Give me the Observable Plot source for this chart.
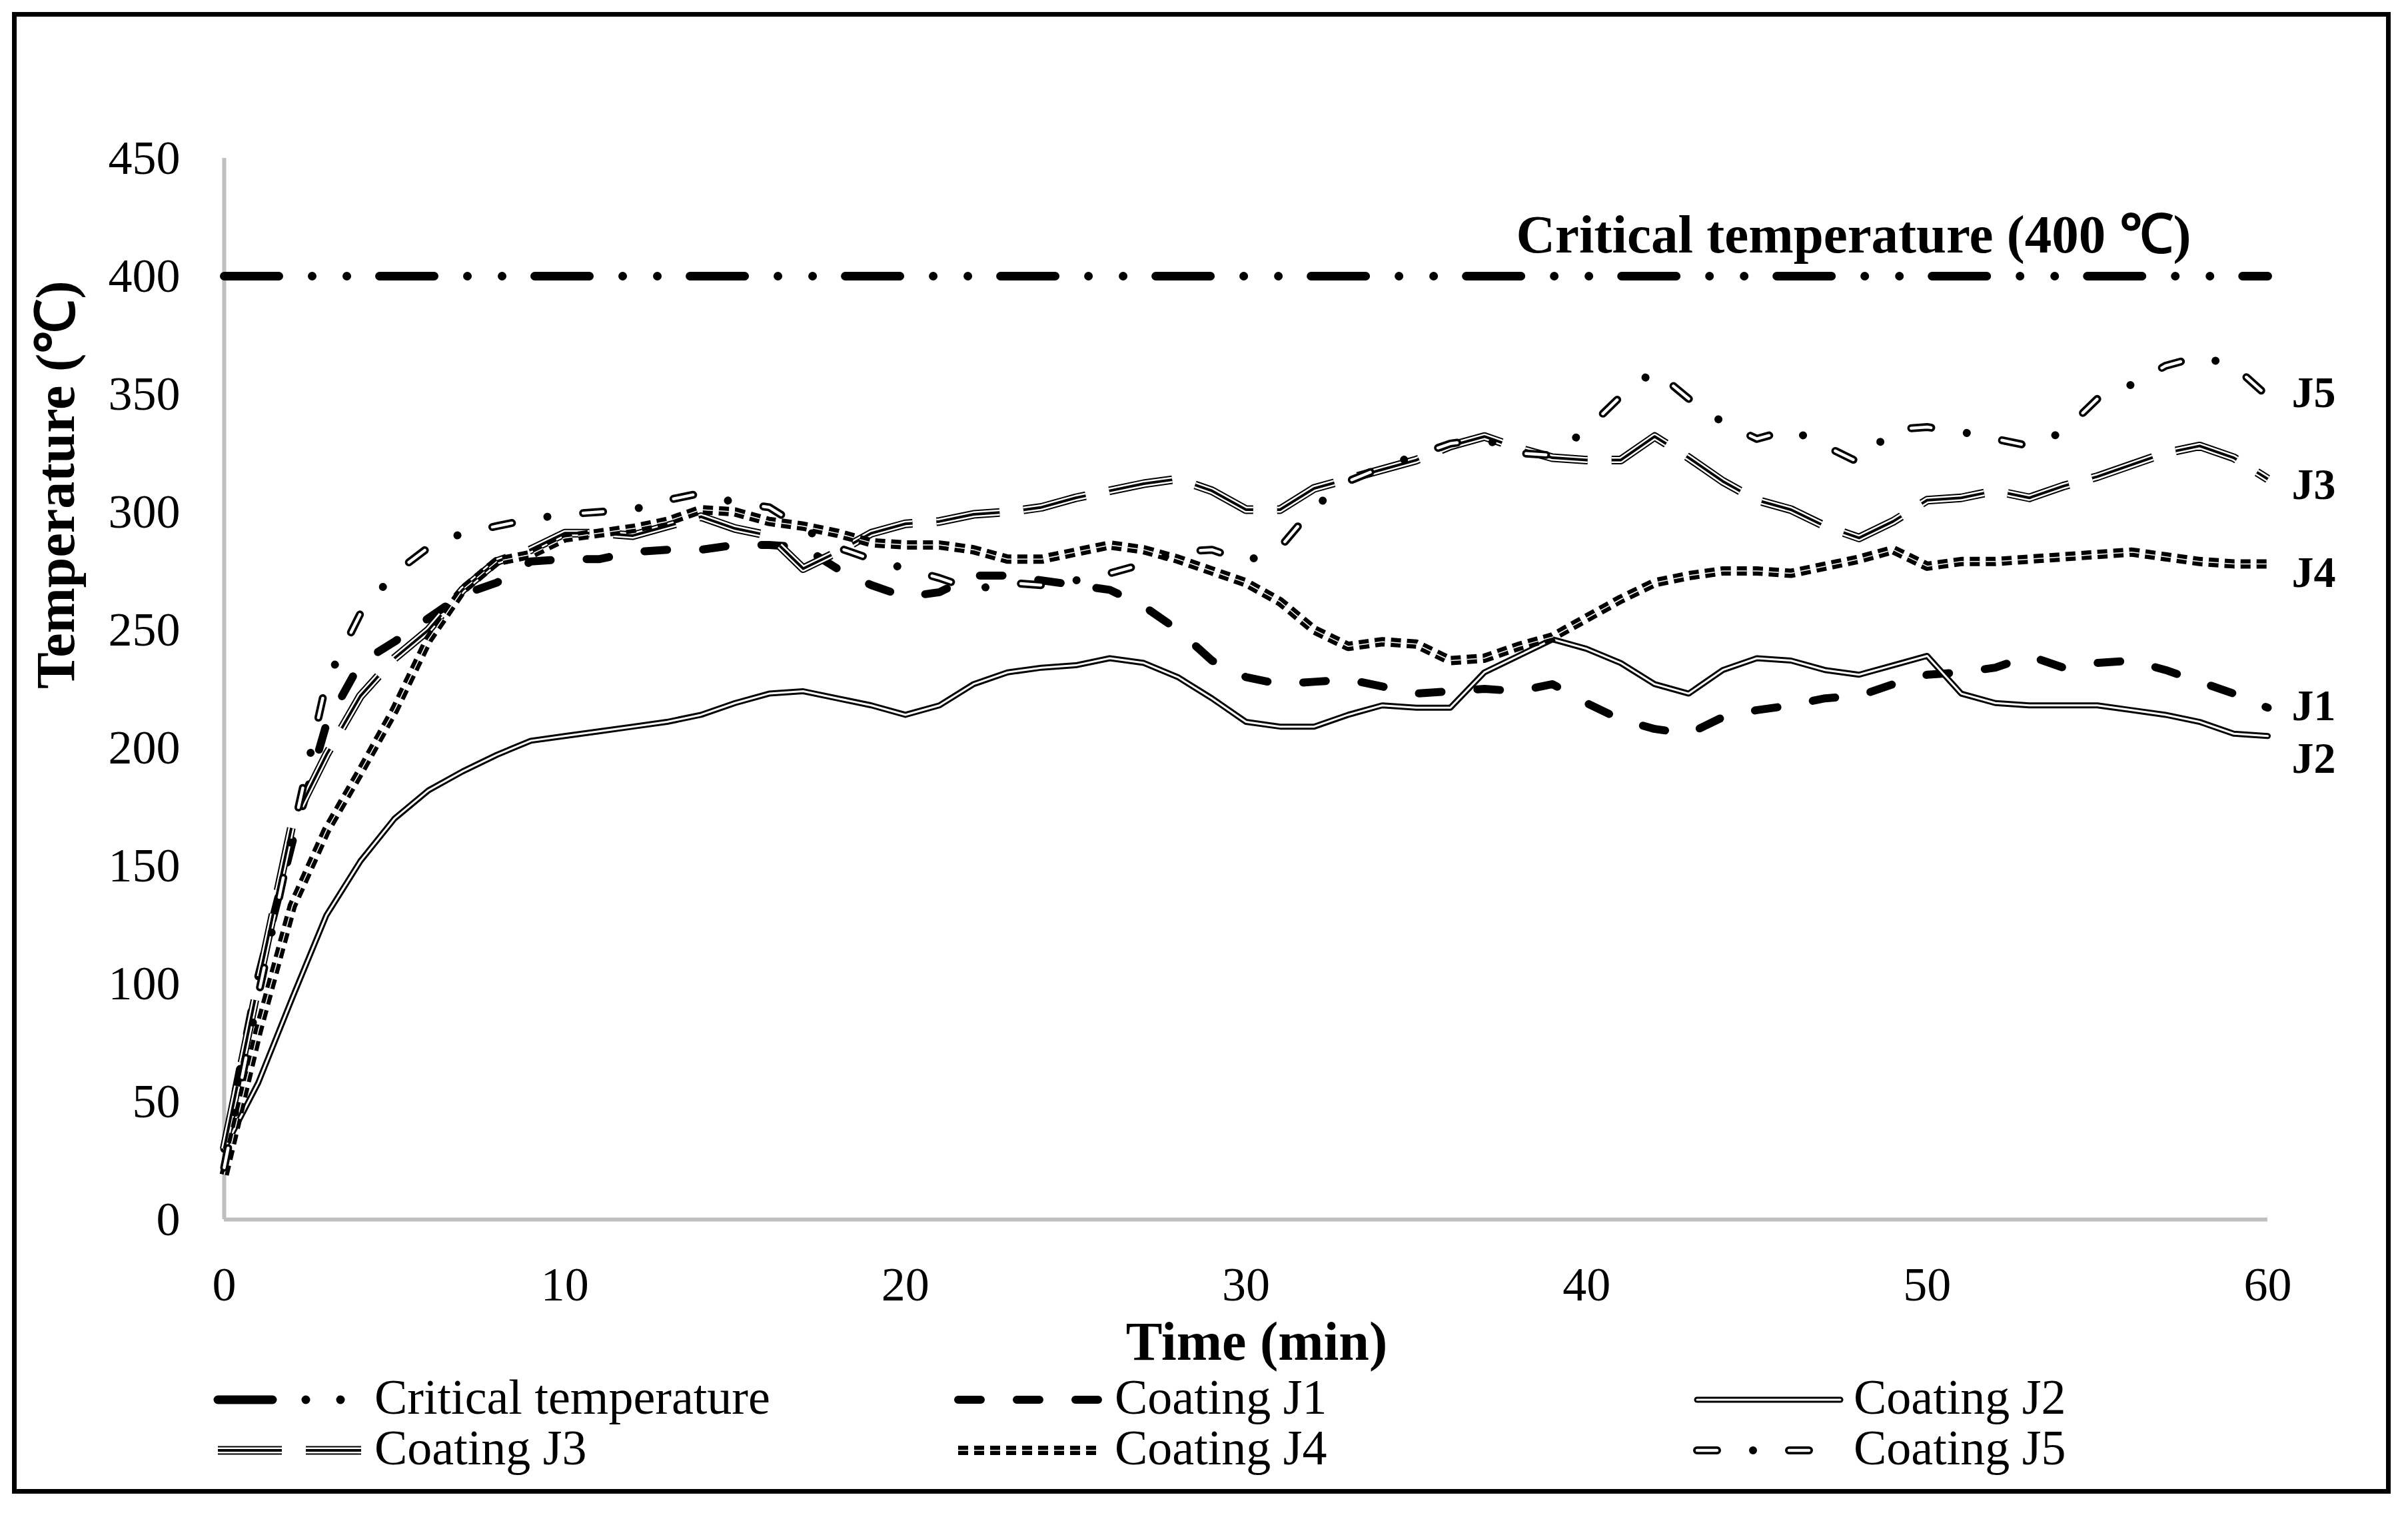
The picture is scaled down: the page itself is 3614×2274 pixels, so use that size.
<!DOCTYPE html>
<html>
<head>
<meta charset="utf-8">
<script src="https://cdn.jsdelivr.net/npm/d3@7"></script>
<script src="https://cdn.jsdelivr.net/npm/@observablehq/plot@0.6"></script>
<style>
  html, body { margin: 0; padding: 0; background: #fff; }
  #chart { position: relative; width: 3614px; height: 2274px; overflow: hidden; background: #fff;
           font-family: 'Liberation Serif', 'Times New Roman', serif; }
  #plot { position: absolute; left: 0; top: 0; }
  #legend { position: absolute; left: 0; top: 2040px; }
  #frame { position: absolute; left: 18px; top: 18px; width: 3570px; height: 2224px;
           border: 7px solid #000; box-sizing: border-box; pointer-events: none; }
</style>
</head>
<body>
<div id="chart">
  <div id="plot"></div>
  <svg id="legend" width="3614" height="200"></svg>
  <div id="frame"></div>
</div>
<script>
// ---------------- data ----------------
const time = [0,1,2,3,4,5,6,7,8,9,10,11,12,13,14,15,16,17,18,19,20,21,22,23,24,25,26,27,28,29,30,
  31,32,33,34,35,36,37,38,39,40,41,42,43,44,45,46,47,48,49,50,51,52,53,54,55,56,57,58,59,60];

const criticalTemp = [400,400,400,400,400,400,400,400,400,400,400,400,400,400,400,400,400,400,400,400,400,
  400,400,400,400,400,400,400,400,400,400,400,400,400,400,400,400,400,400,400,400,
  400,400,400,400,400,400,400,400,400,400,400,400,400,400,400,400,400,400,400,400];

const coatingJ1 = [30,103,160,210,236,245,255,265,270,279,280,280,283,284,284,286,286,285,276,269,264,
  266,273,273,271,269,267,260,250,237,230,227,228,229,226,223,224,225,224,227,219,
  212,208,206,213,216,218,221,222,227,231,232,234,239,234,236,237,233,228,223,217];

const coatingJ2 = [30,58,94,129,152,170,182,190,197,203,205,207,209,211,214,219,223,224,221,218,214,
  218,227,232,234,235,238,236,230,221,211,209,209,214,218,217,217,232,239,246,242,
  236,227,223,233,238,237,233,231,235,239,223,219,218,218,218,216,214,211,206,205];

const coatingJ3 = [30,100,168,197,222,238,250,267,279,284,291,291,290,294,298,293,290,276,283,291,295,
  296,299,300,302,306,309,312,314,309,301,301,310,314,318,322,328,332,327,323,322,
  322,332,323,313,305,301,294,289,296,305,306,309,306,311,315,320,325,328,323,314];

const coatingJ4 = [19,80,133,165,190,216,246,267,279,282,289,291,293,296,301,300,296,294,291,287,286,
  286,284,280,280,283,286,284,280,275,270,262,250,243,245,244,237,238,243,247,255,
  263,270,273,275,275,274,277,280,284,277,279,279,280,281,282,283,281,279,278,278];

const coatingJ5 = [22,95,163,228,257,274,285,291,294,297,299,300,301,305,308,304,302,293,285,280,276,
  272,267,270,269,271,274,278,283,284,279,285,302,313,319,324,329,331,325,324,335,
  349,360,348,338,331,335,328,321,335,336,334,331,328,334,348,354,362,366,362,349];

const xTicks = [0,10,20,30,40,50,60];
const yTicks = [0,50,100,150,200,250,300,350,400,450];
const legendLabels = ["Critical temperature","Coating J1","Coating J2","Coating J3","Coating J4","Coating J5"];
const endLabels = ["J1","J2","J3","J4","J5"];
const xTitle = "Time (min)";
const yTitle = "Temperature (\u2103)";
const criticalNote = "Critical temperature (400 \u2103)";

// ---------------- styles (Excel-like compound lines) ----------------
const styleOf = {
  critical: [{stroke: "#000", strokeWidth: 13, strokeDasharray: "82,50,0.01,52,0.01,49", strokeLinecap: "round"}],
  J1: [{stroke: "#000", strokeWidth: 12, strokeDasharray: "34,54", strokeLinecap: "round"}],
  J2: [{stroke: "#000", strokeWidth: 9, strokeLinecap: "round"},
       {stroke: "#fff", strokeWidth: 3, strokeLinecap: "round"}],
  J3: [{stroke: "#000", strokeWidth: 13, strokeDasharray: "96,36", strokeLinecap: "butt"},
       {stroke: "#fff", strokeWidth: 9, strokeDasharray: "96,36", strokeLinecap: "butt"},
       {stroke: "#000", strokeWidth: 4, strokeDasharray: "96,36", strokeLinecap: "butt"}],
  J4: [{stroke: "#000", strokeWidth: 14, strokeDasharray: "15,9", strokeLinecap: "butt"},
       {stroke: "#fff", strokeWidth: 1.5, strokeDasharray: "15,9", strokeLinecap: "butt"}],
  J5: [{stroke: "#000", strokeWidth: 12, strokeDasharray: "30,54,0.01,54", strokeLinecap: "round"},
       {stroke: "#fff", strokeWidth: 4.5, strokeDasharray: "30,108", strokeLinecap: "round"}]
};

const series = [
  {key: "critical", values: criticalTemp},
  {key: "J1", values: coatingJ1},
  {key: "J2", values: coatingJ2},
  {key: "J3", values: coatingJ3},
  {key: "J4", values: coatingJ4},
  {key: "J5", values: coatingJ5}
];
const rowsOf = (vals) => time.map((t, i) => ({t, v: vals[i]}));

const FONT = "'Liberation Serif', 'Times New Roman', serif";

const marks = [
  Plot.ruleY([0], {stroke: "#bfbfbf", strokeWidth: 6}),
  Plot.ruleX([0], {stroke: "#bfbfbf", strokeWidth: 6})
];
for (const s of series) {
  const rows = rowsOf(s.values);
  for (const layer of styleOf[s.key]) {
    marks.push(Plot.line(rows, {x: "t", y: "v", strokeLinejoin: "round", ...layer}));
  }
}
// end-of-line labels
const endDy = {J1: -2, J2: 34, J3: 9, J4: 13, J5: -5};
endLabels.forEach((lab, i) => {
  const s = series[i + 1];
  const last = rowsOf(s.values)[time.length - 1];
  marks.push(Plot.text([last], {x: "t", y: "v", text: () => lab, textAnchor: "start",
    dx: 36, dy: endDy[lab], fontSize: 66, fontWeight: "bold", fontFamily: FONT, fill: "#000"}));
});
// critical annotation
marks.push(Plot.text([criticalNote], {frameAnchor: "top-right", textAnchor: "end", lineAnchor: "top",
  dx: -115, dy: 84, fontSize: 81, fontWeight: "bold", fontFamily: FONT, fill: "#000"}));
// axis titles
marks.push(Plot.text([xTitle], {frameAnchor: "bottom", lineAnchor: "top", dx: 16, dy: 152,
  fontSize: 82, fontWeight: "bold", fontFamily: FONT, fill: "#000"}));
marks.push(Plot.text([yTitle], {frameAnchor: "left", rotate: -90, dx: -252, dy: 0,
  fontSize: 82, fontWeight: "bold", fontFamily: FONT, fill: "#000"}));

const chart = Plot.plot({
  width: 3614,
  height: 2070,
  marginLeft: 336,
  marginRight: 211,
  marginTop: 237,
  marginBottom: 240,
  x: {domain: [0, 60], ticks: xTicks, tickSize: 0, tickPadding: 70, label: null},
  y: {domain: [0, 450], ticks: yTicks, tickSize: 0, tickPadding: 66, label: null},
  style: {fontFamily: FONT, fontSize: "72px", background: "transparent", color: "#000", overflow: "visible"},
  marks
});
document.getElementById("plot").appendChild(chart);

// ---------------- legend ----------------
const legend = d3.select("#legend");
const colStart = [321, 1432, 2541];
const rowY = [61, 137];
const sampleLen = 215;
const legendKeys = ["critical", "J1", "J2", "J3", "J4", "J5"];
legendKeys.forEach((key, i) => {
  const col = i % 3, row = Math.floor(i / 3);
  const g = legend.append("g").attr("transform", `translate(${colStart[col]},${rowY[row]})`);
  for (const layer of styleOf[key]) {
    g.append("line")
      .attr("x1", 6).attr("x2", 6 + sampleLen).attr("y1", 0).attr("y2", 0)
      .attr("stroke", layer.stroke)
      .attr("stroke-width", layer.strokeWidth)
      .attr("stroke-dasharray", layer.strokeDasharray || null)
      .attr("stroke-linecap", layer.strokeLinecap);
  }
  g.append("text")
    .attr("x", 241).attr("y", 21)
    .attr("font-family", FONT).attr("font-size", 74).attr("fill", "#000")
    .text(legendLabels[i]);
});
</script>
</body>
</html>
